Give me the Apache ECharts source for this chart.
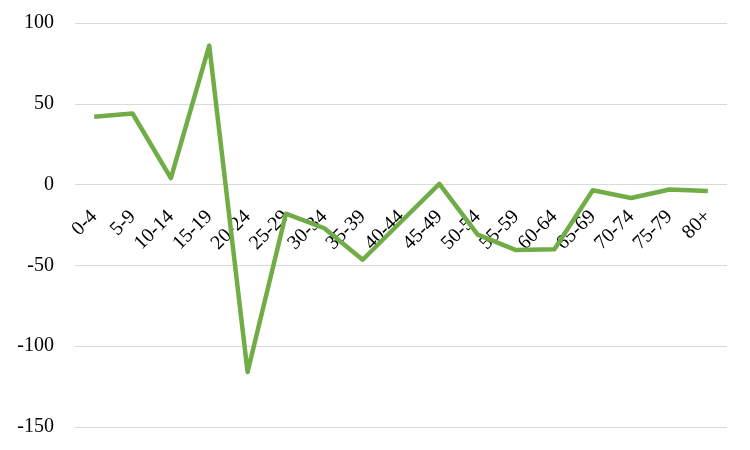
<!DOCTYPE html>
<html>
<head>
<meta charset="utf-8">
<script src="https://cdn.jsdelivr.net/npm/echarts@6/dist/echarts.min.js"></script>
<style>html,body{margin:0;padding:0;background:#fff}#c{width:750px;height:450px}</style>
</head>
<body>
<div id="c"></div>
<script>
const categories = ['0-4','5-9','10-14','15-19','20-24','25-29','30-34','35-39','40-44','45-49','50-54','55-59','60-64','65-69','70-74','75-79','80+'];
const values = [42, 44, 4, 86, -116, -18, -27, -46.5, -23, 0.5, -31, -40.5, -40, -3.5, -8.3, -3, -4];
const yTicks = {min: -150, max: 100, interval: 50};

const H = 450, gridTop = 23, gridBottom = 23;
const plotH = H - gridTop - gridBottom;
// place the category axis at value 0 (Excel style "axis crosses at 0")
const zeroOffset = -plotH * (0 - yTicks.min) / (yTicks.max - yTicks.min);

const chart = echarts.init(document.getElementById('c'), null, {renderer: 'canvas'});
chart.setOption({
  animation: false,
  backgroundColor: '#fff',
  grid: {left: 75, right: 23, top: gridTop, bottom: gridBottom, containLabel: false, outerBoundsMode: 'none'},
  xAxis: {
    type: 'category',
    data: categories,
    boundaryGap: true,
    position: 'bottom',
    offset: zeroOffset,
    axisLine: {show: false, onZero: false},
    axisTick: {show: false},
    axisLabel: {rotate: 45, margin: 29, interval: 0, color: '#000', fontFamily: 'Liberation Serif', fontSize: 20},
    splitLine: {show: false}
  },
  yAxis: {
    type: 'value',
    min: yTicks.min, max: yTicks.max, interval: yTicks.interval,
    axisLine: {show: false},
    axisTick: {show: false},
    axisLabel: {margin: 21, color: '#000', fontFamily: 'Liberation Serif', fontSize: 20},
    splitLine: {show: true, lineStyle: {color: '#d9d9d9', width: 1}}
  },
  series: [{
    type: 'line',
    data: values,
    symbol: 'none',
    lineStyle: {color: '#70ad47', width: 4.5, join: 'round'},
    itemStyle: {color: '#70ad47'}
  }]
});
</script>
</body>
</html>
